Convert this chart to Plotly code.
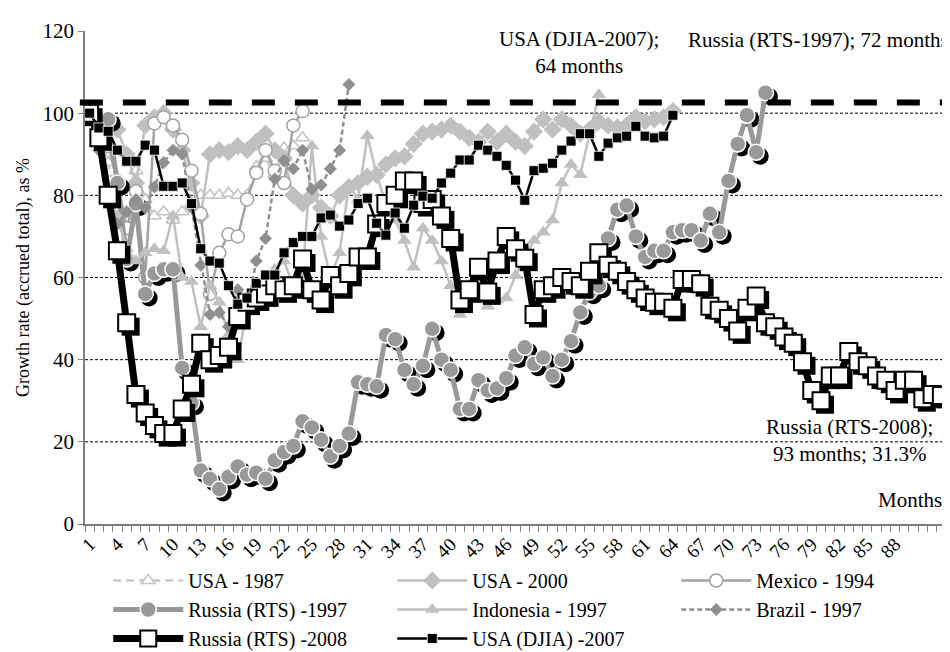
import plotly.graph_objects as go
import numpy as np

months = list(range(1, 94))
tick_vals = list(range(1, 89, 3))
tick_text = [str(v) for v in tick_vals]

usa_1987 = [100, 96, 88, 76, 74, 86, 79, 75, 76, 74, 76, 78, 80, 80, 80, 80.5, 80, 80, 87, 89, 85, 91.5, 92, 94]
usa_2000 = [100, 98, 97.5, 96, 90, 83, 97, 99, 100, 96, 91, 83, 75, 90, 91, 90.5, 92, 91, 93, 95, 91, 89, 80, 78,
            80, 77, 75, 80, 82, 83, 84.5, 85, 87.5, 89, 89.5, 92.5, 95, 95.5, 96, 97, 95.5, 94, 93, 95.5, 93,
            95, 93, 92, 95.5, 98.5, 96, 98.5, 97, 95, 96, 98, 97, 96.5, 97, 99, 98, 98.5, 99, 100.5]
mexico_1994 = [100, 95, 92, 83.5, 72, 81, 60, 97.5, 99, 97, 93.5, 86, 75.5, 56, 66, 70.5, 70, 79, 85.5, 91, 86, 83, 97, 100.5]
russia_1997 = [100, 97, 98.5, 83, 64.5, 78, 56, 61, 62, 62, 38, 29.5, 13, 11, 8.5, 11.5, 14, 12, 12.5, 11,
               15.5, 17.5, 19, 25, 23.5, 20.5, 16.5, 19, 22, 34.5, 34, 33.5, 46, 45, 37.5, 34, 38.5, 47.5, 40, 37.5,
               28, 28, 35, 32.5, 33, 35.5, 41, 43, 39, 40.5, 36, 40, 44.5, 51.5, 56.5, 58, 69.5, 76.5, 77.5, 70,
               65, 66.5, 66.5, 71, 71.5, 71.5, 69, 75.5, 71, 83.5, 92.5, 99.5, 90.5, 105]
indonesia_1997 = [100, 93, 80, 75, 67, 64, 66, 67, 66.5, 75, 60, 59, 48, 58, 54, 46, 40, 52, 55, 56,
                  62, 64, 58, 60, 92, 70, 60, 66, 82.5, 79, 94.5, 85, 78, 74, 69, 62.5, 72, 69, 64, 58,
                  51, 57, 61, 53, 54.5, 55, 60.5, 65, 69, 71, 74, 83, 87.5, 85, 95, 104.5]
brazil_1997 = [100, 91, 80, 73, 76, 79, 77, 82, 88, 91, 90, 77, 63, 51, 51.5, 48, 57, 52, 64, 69.5,
               84, 88.5, 86.5, 91, 81.5, 82.5, 86.5, 91, 107]
russia_2008 = [100, 94, 80, 66.5, 49, 31.5, 27, 24, 22, 22, 28, 34, 44, 40, 41, 43, 50.5, 54, 55, 56,
               58, 57, 58, 64.5, 57, 54.5, 60.5, 58, 61, 65, 65, 73, 78, 80, 83.5, 83.5, 78, 79, 75, 69.5,
               54.5, 57, 62.5, 56.5, 64, 70, 67, 64.7, 51, 57, 58, 60, 59, 58, 61.5, 66, 63, 61.5, 59, 57,
               55, 54, 54, 52.5, 59.5, 59.5, 58.5, 53, 52, 50, 47, 52.5, 55.5, 49, 48, 45.5, 44, 39.5, 32.5, 30,
               36, 36, 42, 39.5, 38.5, 36, 35, 32.5, 35, 35, 30.5, 31.5, 31.3]
usa_djia_2007 = [100, 96.4, 95.6, 91, 88.3, 88.3, 92.2, 91, 82.2, 82.2, 83, 78, 67, 64, 63.5, 58, 53.5, 55, 58.6, 60.6,
                 60.6, 66, 68.5, 70, 70, 74.5, 75.2, 72.5, 74, 78, 79.3, 73.2, 70.3, 75.7, 72, 77.6, 79.8, 79.3, 83, 85.4,
                 88.6, 88.6, 92.2, 91, 89.5, 87.3, 83.7, 78.8, 86, 86.6, 87.8, 91, 93.2, 95, 95, 89.5, 92.7, 94, 94.4, 96.8,
                 94.4, 94, 94.4, 99.5]

ref_level = 102.6

SERIF = "Liberation Serif, Times New Roman, serif"
SHADOW_DX = 0.43   # category units (~4 px)
SHADOW_DY = -0.97  # value units (~4 px)

fig = go.Figure()


def add_series(name, vals, line, marker, shadow=False):
    x = months[:len(vals)]
    if shadow:
        fig.add_trace(go.Scatter(
            x=np.array(x) + SHADOW_DX, y=np.array(vals) + SHADOW_DY, mode="markers",
            marker=dict(symbol=marker["symbol"], size=marker["size"] + 1, color="black",
                        line=dict(width=0)),
            showlegend=False, hoverinfo="skip"))
    fig.add_trace(go.Scatter(x=x, y=vals, name=name, mode="lines+markers",
                             line=line, marker=marker))


add_series("USA - 1987", usa_1987,
           dict(color="#c9c9c9", width=2.5, dash="8px,5px"),
           dict(symbol="triangle-up", size=12, color="white", line=dict(color="#c4c4c4", width=1.5)))
add_series("USA - 2000", usa_2000,
           dict(color="#c0c0c0", width=2.5),
           dict(symbol="diamond", size=14, color="#c0c0c0", line=dict(color="#c0c0c0", width=0)))
add_series("Mexico - 1994", mexico_1994,
           dict(color="#a3a3a3", width=2.5),
           dict(symbol="circle", size=13, color="white", line=dict(color="#a3a3a3", width=1.5)))
add_series("Russia (RTS) -1997", russia_1997,
           dict(color="#999999", width=5),
           dict(symbol="circle", size=16, color="#999999", line=dict(color="white", width=1.5)),
           shadow=True)
add_series("Indonesia - 1997", indonesia_1997,
           dict(color="#c0c0c0", width=2.5),
           dict(symbol="triangle-up", size=13, color="#c0c0c0", line=dict(width=0)))
add_series("Brazil - 1997", brazil_1997,
           dict(color="#8f8f8f", width=2.5, dash="5px,3px"),
           dict(symbol="diamond", size=10, color="#8f8f8f", line=dict(width=0)))
add_series("Russia (RTS) -2008", russia_2008,
           dict(color="black", width=7),
           dict(symbol="square", size=17, color="white", line=dict(color="black", width=2)),
           shadow=True)
add_series("USA (DJIA) -2007", usa_djia_2007,
           dict(color="black", width=2.5),
           dict(symbol="square", size=10, color="black", line=dict(color="white", width=0.8)))

# thick dashed reference line
fig.add_shape(type="line", xref="paper", yref="y", x0=-0.006, x1=1.02, y0=ref_level, y1=ref_level,
              line=dict(color="black", width=6, dash="23px,20px"), layer="above")

L, R, T, B = 77, 12, 23, 136
W, H = 950, 652
pw, ph = W - L - R, H - T - B

annots = [
    dict(text="USA (DJIA-2007);<br>64 months", px=571, py=44),
    dict(text="Russia (RTS-1997); 72 months", px=810, py=32),
    dict(text="Russia (RTS-2008);<br>93 months; 31.3%", px=841, py=432),
]
for a in annots:
    fig.add_annotation(text=a["text"], showarrow=False, xref="paper", yref="paper",
                       x=(a["px"] - L) / pw, y=1 - (a["py"] - T) / ph,
                       xanchor="center", yanchor="middle",
                       font=dict(family=SERIF, size=21, color="black"))
fig.add_annotation(text="Months", showarrow=False, xref="paper", yref="paper",
                   x=(936 - L) / pw, y=1 - (492 - T) / ph, xanchor="right", yanchor="middle",
                   font=dict(family=SERIF, size=21, color="black"))

fig.update_layout(
    width=W, height=H,
    margin=dict(l=L, r=R, t=T, b=B, autoexpand=False),
    paper_bgcolor="white", plot_bgcolor="white",
    font=dict(family=SERIF, size=21, color="black"),
    showlegend=True,
    legend=dict(orientation="h", x=0.027, y=-(553 - 516) / 493, xanchor="left", yanchor="top",
                entrywidth=199, entrywidthmode="pixels", itemwidth=70,
                font=dict(family=SERIF, size=20), tracegroupgap=0, traceorder="normal"),
)
fig.update_xaxes(range=[0.5, 93.5], tickmode="array", tickvals=tick_vals, ticktext=tick_text,
                 tickangle=-45, ticks="", showgrid=False, zeroline=False,
                 showline=True, linecolor="#7f7f7f", linewidth=1.5,
                 tickfont=dict(family=SERIF, size=19),
                 minor=dict(tickmode="array", tickvals=[i + 0.5 for i in range(0, 94)],
                            ticks="outside", ticklen=6, tickcolor="#7f7f7f", tickwidth=1.2, showgrid=False))
fig.update_yaxes(range=[0, 120], tickmode="array", tickvals=[0, 20, 40, 60, 80, 100, 120],
                 ticks="outside", ticklen=5, tickcolor="#7f7f7f", tickwidth=1.2,
                 showline=True, linecolor="#7f7f7f", linewidth=1.5, zeroline=False,
                 showgrid=False,
                 tickfont=dict(family=SERIF, size=21),
                 title=dict(text="Growth rate (accrued total), as %", font=dict(family=SERIF, size=18), standoff=8))
for gv in [20, 40, 60, 80, 100]:
    fig.add_shape(type="line", xref="paper", yref="y", x0=0, x1=1, y0=gv, y1=gv,
                  line=dict(color="black", width=1, dash="3px,2px"), layer="below")

fig.write_html("out.html")
